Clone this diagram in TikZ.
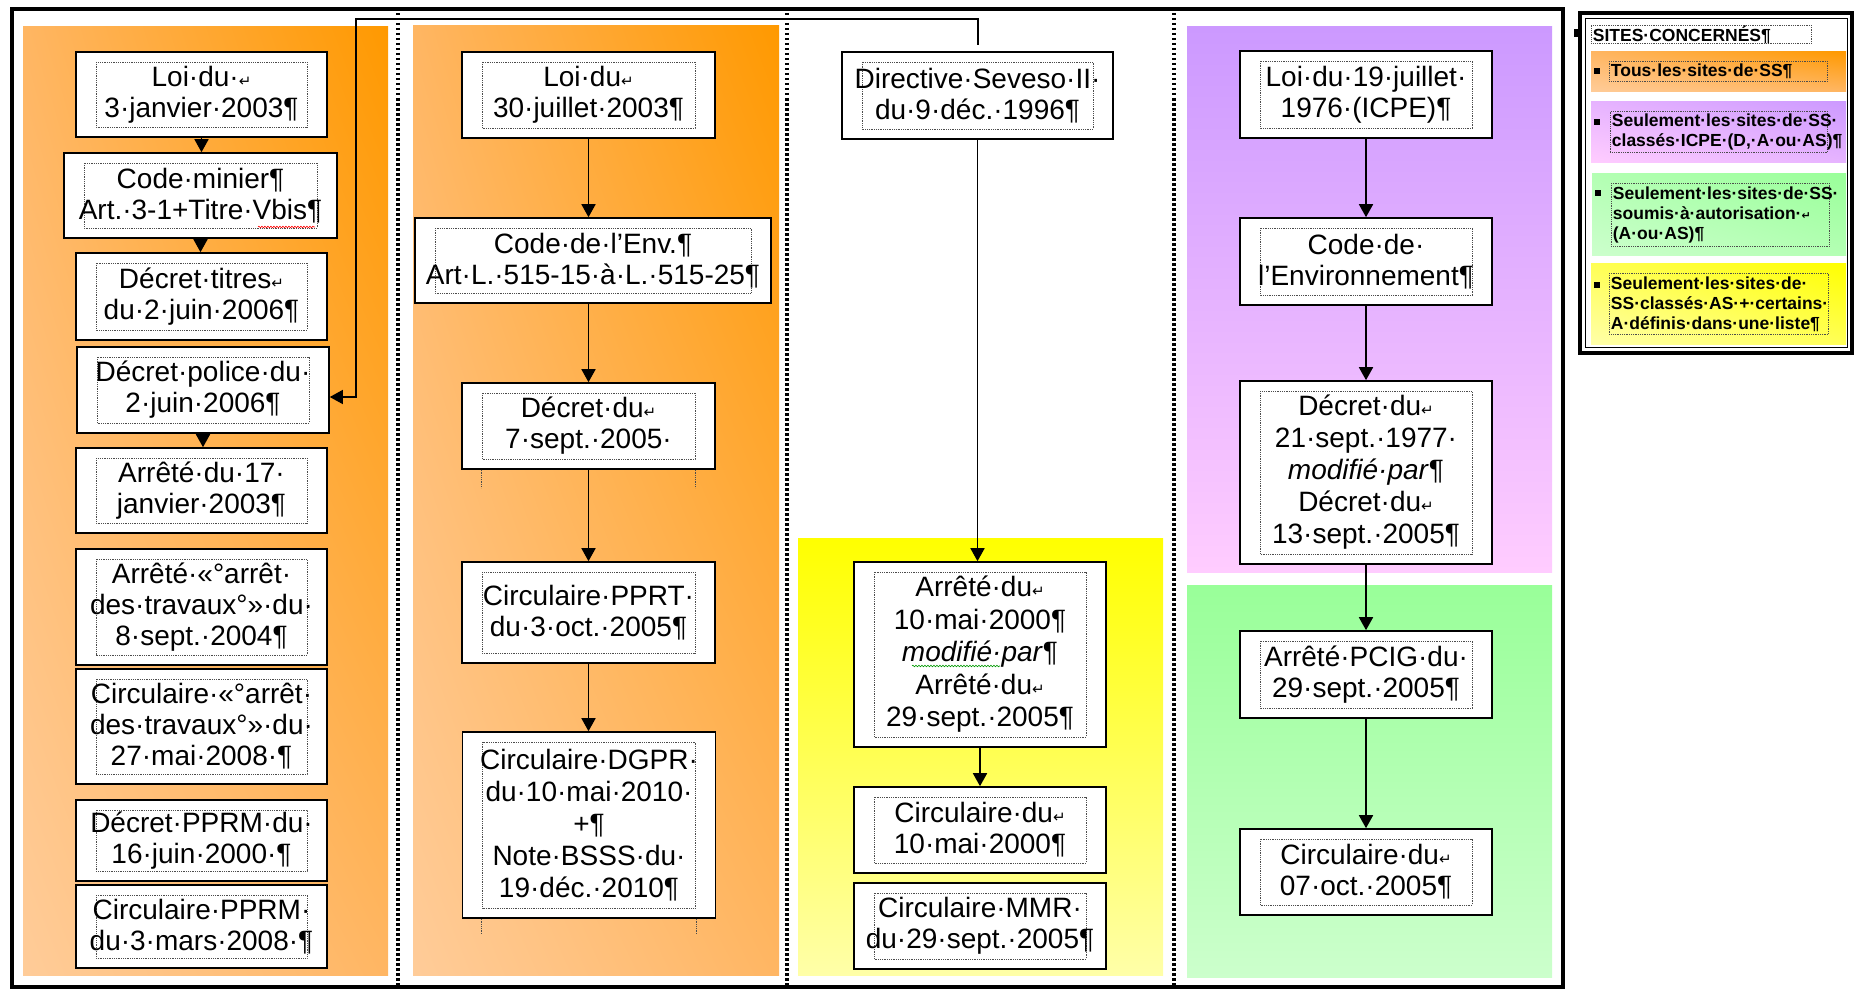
\documentclass[tikz,border=0pt]{standalone}
\usepackage{fontspec}
\setmainfont{Liberation Sans}
\newfontfamily\symfont{DejaVu Sans}
\usetikzlibrary{arrows.meta,decorations.pathmorphing,shadings}

\definecolor{orangedark}{HTML}{FF9900}
\definecolor{orangemid}{HTML}{FFB663}
\definecolor{orangelight}{HTML}{FFCC99}
\definecolor{purpletop}{HTML}{CC99FF}
\definecolor{purplemid}{HTML}{E6B3FF}
\definecolor{pinkbottom}{HTML}{FFCCFF}
\definecolor{greentop}{HTML}{99FF99}
\definecolor{greenmid}{HTML}{B3FFB3}
\definecolor{greenbottom}{HTML}{CCFFCC}
\definecolor{yellowtop}{HTML}{FFFF00}
\definecolor{yellowmid}{HTML}{FFFF55}
\definecolor{yellowbottom}{HTML}{FFFFA8}

\newcommand{\boxfont}{\fontsize{28}{31}\selectfont}
\newcommand{\legfont}{\fontsize{17.5}{20}\selectfont\bfseries}
\newcommand{\lnbrk}{{\symfont\fontsize{15}{15}\selectfont ↵}}
\newcommand{\leglnbrk}{{\symfont\bfseries\fontsize{11}{11}\selectfont ↵}}
\hyphenpenalty=10000
\exhyphenpenalty=10000

\tikzset{
	framedot/.style = {draw = black!70, densely dotted, line width = 0.8pt},
	box/.style = {draw, line width = 1.6pt, fill = white, align = center, inner sep = 0pt, font = \boxfont, minimum width = 252pt,
		path picture = {\draw[framedot] ([xshift = 20pt, yshift = -10pt]path picture bounding box.north west) rectangle ([xshift = -20pt, yshift = 10pt]path picture bounding box.south east);}},
	link/.style = {line width = 1.7pt, -{Triangle[width = 14pt, length = 13pt]}},
	sepline/.style = {line width = 3.5pt, dash pattern = on 2.5pt off 2.5pt},
	diagshade/.style n args = {3}{shading = bilinear interpolation, lower left = #1, upper left = #2, lower right = #2, upper right = #3},
	legtext/.style = {framedot, anchor = north west, align = left, inner xsep = 1.5pt, inner ysep = 0pt, font = \legfont},
	bullet/.style = {fill, inner sep = 0pt, minimum size = 6pt}
}

\begin{document}
\begin{tikzpicture}[x = 1pt, y = -1pt]
	\useasboundingbox (0, 0) rectangle (1856, 990);

	\shade[diagshade = {orangelight}{orangemid}{orangedark}] (23, 27) rectangle (388, 975);
	\shade[diagshade = {orangelight}{orangemid}{orangedark}] (413, 26) rectangle (779, 975);
	\shade[top color = yellowtop, bottom color = yellowbottom] (798, 538) rectangle (1163, 975);
	\shade[top color = purpletop, bottom color = pinkbottom] (1187, 27) rectangle (1552, 572);
	\shade[top color = greentop, bottom color = greenbottom] (1187, 585) rectangle (1552, 977);

	\foreach \xsep in {398, 787, 1174}
	\draw[sepline] (\xsep, 13) -- (\xsep, 985);

	\draw[line width = 4pt] (11.5, 9) rectangle (1563, 987);

	% colonne 1
	\node[box, minimum width = 251pt, minimum height = 85pt] (loijan) at (201.5, 94.5) {Loi·du·\lnbrk\\3·janvier·2003¶};
	\node[box, minimum width = 273pt, minimum height = 85pt] (codemin) at (200.5, 195.5) {Code·minier¶\\Art.·3-1+Titre·Vbis¶};
	\node[box, minimum width = 251pt, minimum height = 87pt] (dectitres) at (201.5, 296.5) {Décret·titres\lnbrk\\du·2·juin·2006¶};
	\node[box, minimum height = 86pt] (decpolice) at (203, 390) {Décret·police·du·\\2·juin·2006¶};
	\node[box, minimum width = 251pt, minimum height = 85pt] (arrjan) at (201.5, 490.5) {Arrêté·du·17·\\janvier·2003¶};
	\node[box, minimum width = 251pt, minimum height = 116pt] (arrtrav) at (201.5, 607) {Arrêté·«°arrêt·\\des·travaux°»·du·\\8·sept.·2004¶};
	\node[box, minimum width = 251pt, minimum height = 115pt] (circtrav) at (201.5, 726.5) {Circulaire·«°arrêt·\\des·travaux°»·du·\\27·mai·2008·¶};
	\node[box, minimum width = 251pt, minimum height = 81pt] (decpprm) at (201.5, 840.5) {Décret·PPRM·du·\\16·juin·2000·¶};
	\node[box, minimum width = 251pt, minimum height = 83pt] (circpprm) at (201.5, 926.5) {Circulaire·PPRM·\\du·3·mars·2008·¶};

	\draw[link] (loijan.south) -- (loijan.south |- codemin.north);
	\draw[link] (codemin.south) -- (codemin.south |- dectitres.north);
	\draw[link] (decpolice.south) -- (decpolice.south |- arrjan.north);
	\draw[red, line width = 0.6pt, decorate, decoration = {snake, amplitude = 0.8pt, segment length = 3pt}] (258, 227) -- (315, 227);

	% colonne 2
	\node[box, minimum width = 253pt, minimum height = 86pt] (loijul) at (588.5, 95) {Loi·du\lnbrk\\30·juillet·2003¶};
	\node[box, minimum width = 356pt, minimum height = 85pt] (codeenv) at (593, 260.5) {Code·de·l’Env.¶\\Art·L.·515-15·à·L.·515-25¶};
	\node[box, minimum width = 253pt, minimum height = 86pt] (decsept) at (588.5, 426) {Décret·du\lnbrk\\7·sept.·2005·};
	\node[box, minimum width = 253pt, minimum height = 101pt] (circpprt) at (588.5, 612.5) {Circulaire·PPRT·\\du·3·oct.·2005¶};
	\node[box, minimum width = 253pt, minimum height = 186pt, font = \fontsize{28}{32}\selectfont] (circdgpr) at (589, 825) {Circulaire·DGPR·\\du·10·mai·2010·\\+¶\\Note·BSSS·du·\\19·déc.·2010¶};

	\draw[link] (loijul.south) -- (loijul.south |- codeenv.north);
	\draw[link] (loijul.south |- codeenv.south) -- (decsept.north);
	\draw[link] (decsept.south) -- (circpprt.north);
	\draw[link] (circpprt.south) -- (circpprt.south |- circdgpr.north);

	\draw[framedot] ([xshift = 20pt]decsept.south west) -- ++(0, 18);
	\draw[framedot] ([xshift = -20pt]decsept.south east) -- ++(0, 18);
	\draw[framedot] ([xshift = 20pt]circdgpr.south west) -- ++(0, 16);
	\draw[framedot] ([xshift = -20pt]circdgpr.south east) -- ++(0, 16);

	% colonne 3
	\node[box, minimum width = 271pt, minimum height = 87pt] (seveso) at (977.5, 95.5) {Directive·Seveso·II·\\du·9·déc.·1996¶};
	\node[box, minimum height = 185pt, font = \fontsize{28}{32.5}\selectfont] (arrmai) at (980, 654.5) {Arrêté·du\lnbrk\\10·mai·2000¶\\\textit{modifié·par}¶\\Arrêté·du\lnbrk\\29·sept.·2005¶};
	\node[box, minimum height = 86pt] (circmai) at (980, 830) {Circulaire·du\lnbrk\\10·mai·2000¶};
	\node[box, minimum height = 86pt] (circmmr) at (980, 926) {Circulaire·MMR·\\du·29·sept.·2005¶};

	\draw[link] (seveso.south) -- (seveso.south |- arrmai.north);
	\draw[link] (arrmai.south) -- (circmai.north);
	\draw[green!60!black, line width = 0.6pt, decorate, decoration = {snake, amplitude = 0.8pt, segment length = 3pt}] (912, 666) -- (1000, 666);

	\coordinate (sevtop) at (978, 45);
	\coordinate (sevbend) at (356, 19);
	\draw[line width = 1.4pt, -{Triangle[width = 14pt, length = 13pt]}] (sevtop) |- (sevbend) |- ([yshift = -7pt]decpolice.east);

	% colonne 4
	\node[box, minimum height = 87pt] (loiicpe) at (1366, 94.5) {Loi·du·19·juillet·\\1976·(ICPE)¶};
	\node[box, minimum height = 87pt] (codeenvt) at (1366, 261.5) {Code·de·\\l’Environnement¶};
	\node[box, minimum height = 183pt, font = \fontsize{28}{32}\selectfont] (decsepts) at (1366, 472.5) {Décret·du\lnbrk\\21·sept.·1977·\\\textit{modifié·par}¶\\Décret·du\lnbrk\\13·sept.·2005¶};
	\node[box, minimum height = 87pt] (arrpcig) at (1366, 674.5) {Arrêté·PCIG·du·\\29·sept.·2005¶};
	\node[box, minimum height = 86pt] (circoct) at (1366, 872) {Circulaire·du\lnbrk\\07·oct.·2005¶};

	\draw[link] (loiicpe) -- (codeenvt);
	\draw[link] (codeenvt) -- (decsepts);
	\draw[link] (decsepts) -- (arrpcig);
	\draw[link] (arrpcig) -- (circoct);

	% legende
	\draw[line width = 4pt] (1580, 13) rectangle (1852, 353);
	\draw[line width = 0.8pt] (1585.5, 18.5) rectangle (1847, 347);
	\fill (1574, 29) rectangle (1580, 37);

	\shade[diagshade = {orangelight}{orangemid}{orangedark}] (1591, 52) rectangle (1846, 92);
	\shade[diagshade = {pinkbottom}{purplemid}{purpletop}] (1591, 101) rectangle (1846, 162);
	\shade[diagshade = {greenbottom}{greenmid}{greentop}] (1592, 173) rectangle (1846, 255);
	\shade[diagshade = {yellowbottom}{yellowmid}{yellowtop}] (1591, 263) rectangle (1846, 344);

	\node[legtext, text width = 217pt, minimum height = 18pt] (legtitle) at (1591, 25) {SITES·CONCERNÉS¶};
	\node[legtext, text width = 215pt, minimum height = 20pt] (legall) at (1609, 61) {Tous·les·sites·de·SS¶};
	\node[legtext, text width = 214pt, minimum height = 41pt] (legicpe) at (1610, 111) {Seulement·les·sites·de·SS·\\classés·ICPE·(D,·A·ou·AS)¶};
	\node[legtext, text width = 215pt, minimum height = 63pt] (legautor) at (1611, 183) {Seulement·les·sites·de·SS·\\soumis·à·autorisation·\leglnbrk\\(A·ou·AS)¶};
	\node[legtext, text width = 216pt, minimum height = 61pt] (legas) at (1609, 273) {Seulement·les·sites·de·\\SS·classés·AS·+·certains·\\A·définis·dans·une·liste¶};

	\node[bullet] (bulall) at (1597, 71) {};
	\node[bullet] (bulicpe) at (1597, 122) {};
	\node[bullet] (bulautor) at (1598, 193) {};
	\node[bullet] (bulas) at (1597, 285) {};
\end{tikzpicture}
\end{document}
